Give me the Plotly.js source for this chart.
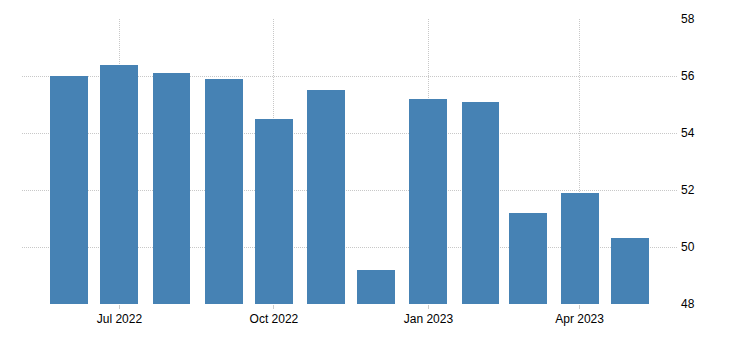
<!DOCTYPE html>
<html>
<head>
<meta charset="utf-8">
<script src="https://cdn.plot.ly/plotly-3.0.1.min.js"></script>
<style>html,body{margin:0;padding:0;background:#fff;}#chart{width:730px;height:340px;}</style>
</head>
<body>
<div id="chart"></div>
<script>
const months = ["2022-06-01","2022-07-01","2022-08-01","2022-09-01","2022-10-01","2022-11-01","2022-12-01","2023-01-01","2023-02-01","2023-03-01","2023-04-01","2023-05-01"];
const values = [56.0, 56.4, 56.1, 55.9, 54.5, 55.5, 49.2, 55.2, 55.1, 51.2, 51.9, 50.3];
const yTicks = [48, 50, 52, 54, 56, 58];

const barWidthMs = 22.6 * 86400000;

const trace = {
  type: "bar",
  x: months,
  y: values,
  width: months.map(() => barWidthMs),
  marker: {color: "#4682B4", line: {width: 0}},
  hoverinfo: "x+y"
};

const layout = {
  width: 730,
  height: 340,
  margin: {l: 22, r: 52, t: 19, b: 36},
  paper_bgcolor: "#fff",
  plot_bgcolor: "#fff",
  showlegend: false,
  bargap: 0,
  font: {family: "Liberation Sans, Arial, sans-serif", size: 12, color: "#000"},
  xaxis: {
    type: "date",
    range: ["2022-05-04", "2023-05-29 14:00"],
    tick0: "2022-07-01",
    dtick: "M3",
    tickformat: "%b %Y",
    showgrid: true,
    gridcolor: "#c8c8c8",
    griddash: "1px,1px",
    gridwidth: 1,
    ticks: "outside",
    ticklen: 4,
    tickcolor: "#cccccc",
    showline: false,
    zeroline: false,
    tickfont: {size: 12, color: "#000"}
  },
  yaxis: {
    side: "right",
    range: [48, 58],
    tickvals: yTicks,
    ticktext: yTicks.map(String),
    showgrid: true,
    gridcolor: "#c8c8c8",
    griddash: "1px,1px",
    gridwidth: 1,
    zeroline: false,
    showline: false,
    ticks: "",
    ticklabelstandoff: 2,
    tickfont: {size: 12, color: "#000"}
  }
};

Plotly.newPlot("chart", [trace], layout, {displayModeBar: false, staticPlot: true});
</script>
</body>
</html>
